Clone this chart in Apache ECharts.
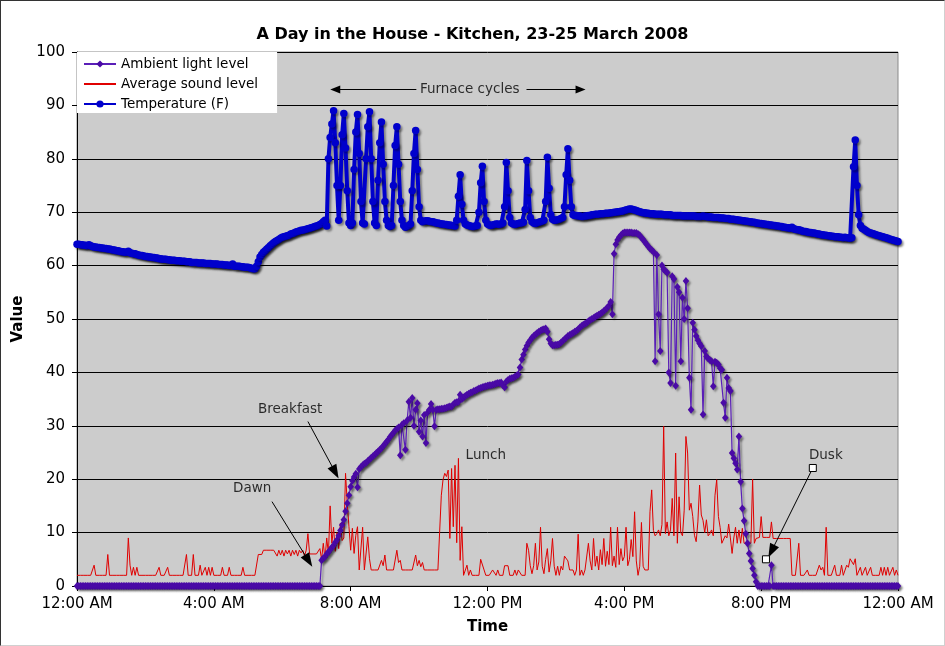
<!DOCTYPE html>
<html><head><meta charset="utf-8">
<script src="https://cdn.jsdelivr.net/npm/echarts@6/dist/echarts.min.js"></script>
<style>
html,body{margin:0;padding:0;background:#fff;}
#chart{width:945px;height:646px;box-sizing:border-box;border-top:1px solid #333;border-left:1px solid #333;border-right:1px solid #d0d0d0;border-bottom:1px solid #d0d0d0;}
</style></head><body><div id="chart"></div>
<script>
// sampling step of the logged data, in hours (every 3 minutes)
const STEP_HOURS = 0.05;
const timeTickLabels = ['12:00 AM','4:00 AM','8:00 AM','12:00 PM','4:00 PM','8:00 PM','12:00 AM'];
const seriesNames = ['Ambient light level','Average sound level','Temperature (F)'];

// Ambient light level, one row per hour (20 samples per hour), then the final midnight sample
const lightLevel = [
0,0,0,0,0,0,0,0,0,0,0,0,0,0,0,0,0,0,0,0,
0,0,0,0,0,0,0,0,0,0,0,0,0,0,0,0,0,0,0,0,
0,0,0,0,0,0,0,0,0,0,0,0,0,0,0,0,0,0,0,0,
0,0,0,0,0,0,0,0,0,0,0,0,0,0,0,0,0,0,0,0,
0,0,0,0,0,0,0,0,0,0,0,0,0,0,0,0,0,0,0,0,
0,0,0,0,0,0,0,0,0,0,0,0,0,0,0,0,0,0,0,0,
0,0,0,0,0,0,0,0,0,0,0,0,0,0,0,0,0,0,0,0,
0,0,0,4.8,5.2,5.5,6.0,6.3,6.8,7.2,7.6,8.2,8.6,9.4,10.4,11.4,12.4,14.0,15.5,17.0,
18.6,19.7,20.4,21.0,18.5,21.9,22.3,22.6,22.9,23.1,23.4,23.7,24.0,24.3,24.6,24.9,25.2,25.5,25.8,26.2,
26.6,27.0,27.4,27.9,28.3,28.7,29.1,29.4,29.7,24.5,30.2,30.5,25.5,31.0,34.5,31.5,35.2,30.0,33.0,34.2,
28.9,31.0,28.0,32.0,26.8,32.5,33.0,34.1,33.0,29.9,33.0,33.1,33.1,33.2,33.2,33.3,33.4,33.5,33.6,33.6,
34.0,34.3,34.4,34.5,35.8,35.0,35.3,35.6,35.8,36.0,36.2,36.3,36.5,36.6,36.8,37.0,37.1,37.2,37.3,37.4,
37.5,37.6,37.6,37.7,37.8,37.9,38.0,38.0,38.1,37.6,37.2,38.3,38.6,38.8,38.9,39.0,39.2,39.4,39.6,40.9,
42.4,43.3,44.3,45.0,45.6,46.0,46.5,46.8,47.1,47.4,47.6,47.8,48.0,48.1,48.2,47.6,46.2,45.4,45.1,45.1,
45.2,45.2,45.3,45.6,45.9,46.2,46.5,46.8,47.0,47.2,47.4,47.6,47.8,48.1,48.4,48.7,48.9,49.1,49.3,49.6,
49.8,50.0,50.2,50.4,50.6,50.8,51.0,51.2,51.5,51.8,52.1,52.5,53.2,50.9,62.2,64.0,64.8,65.3,65.7,66.0,
66.2,66.2,66.2,66.2,66.2,66.1,66.1,66.1,65.9,65.7,65.2,64.9,64.4,64.0,63.6,63.2,62.9,62.6,42.1,62.0,
50.9,44.0,60.0,59.3,59.0,58.7,40.0,38.0,58.0,57.5,37.5,56.0,55.0,42.1,54.0,50.0,57.1,52.0,39.0,33.0,
49.3,48.0,46.8,46.0,45.4,44.9,32.1,44.0,43.0,42.6,42.3,42.1,37.4,42.0,41.8,41.5,40.8,40.5,34.3,31.5,
39.0,37.1,36.5,24.9,23.9,23.0,21.8,28.0,19.5,14.5,12.2,9.8,8.0,6.1,4.7,3.3,2.0,0.8,0,0,
0,0,0,0,0,0,3.9,0,0,0,0,0,0,0,0,0,0,0,0,0,
0,0,0,0,0,0,0,0,0,0,0,0,0,0,0,0,0,0,0,0,
0,0,0,0,0,0,0,0,0,0,0,0,0,0,0,0,0,0,0,0,
0,0,0,0,0,0,0,0,0,0,0,0,0,0,0,0,0,0,0,0,
0
];

// Average sound level
const soundLevel = [
2,2,2,2,2,2,2,2,2,2,3.9,2,2,2,2,2,2,2,5.9,2,
2,2,2,2,2,2,2,2,2,2,9.0,3.9,2,3.5,2,3.5,2,2,2,2,
2,2,2,2,2,2,2,2,3.5,2,2,2,2,3.5,2,2,2,2,2,2,
2,2,2,2,5.9,2,2,2,5.9,2,2,2,3.9,2,2,3.5,2,3.5,2,3.5,
2,2,2,2,2,3.5,2,2,2,3.5,2,2,2,2,2,2,2,3.5,2,2,
2,2,2,2,2,2,5.9,5.9,5.9,6.7,6.7,6.7,6.7,6.7,6.7,6.7,6.7,5.6,6.7,5.8,
6.7,5.6,6.7,6.0,6.7,5.6,6.7,5.9,6.7,5.6,6.7,6.2,6.7,5.6,6.7,9.8,6.0,6.0,6.0,6.0,
6.0,6.0,7.0,5.0,8.0,5.0,9.0,6.0,15.0,8.0,11.0,6.5,10.0,7.0,11.8,8.5,9.0,21.1,15.5,11.1,
6.7,10.8,6.1,9.5,11.1,3.0,3.0,11.0,3.0,3.0,9.2,5.1,3.0,3.0,3.0,3.0,3.0,3.0,4.8,3.8,
5.8,3,3,3,3,3,3,6.7,4.4,4.8,3,3,3,3,3,3,3,3,5.8,3.8,
4.8,3.6,4.4,3,3,3,3,3,3,3,3,3,3,17.0,19.9,21.1,20.5,21.7,8.9,22.0,
11.1,22.6,8.1,23.9,4.8,11.1,2,2,3.9,2,3.0,2,2,2,2,2,5.0,5.0,3.0,2,
2,2,2,3,3,2,3,2,2,2,3.8,3.8,3.8,2,2,2,3,2,3,3,
2,2,2,8.0,6.7,3.8,2.3,3.8,8.0,3.0,4.5,11.0,3.7,2.3,5.0,7.0,2.6,4.7,8.9,3.7,
2,3.7,2,3.7,3.0,5.6,5.9,4.7,3,3,3,2,3,9.7,2,3,2,3,3,8.0,
4.7,3.0,8.9,3.7,5.6,3.0,6.8,4.0,8.9,3.7,6.5,4.0,11.0,3.8,5.6,3.5,11.0,4.0,7.0,4.7,
5.5,11.0,3.8,5.0,8.7,5.5,13.9,4.7,2.0,3.7,11.9,3.7,3.0,3.0,3.0,13.9,18.0,10.4,9.4,9.8,
10.5,9.4,11.5,29.9,9.8,12.0,9.4,10.5,16.4,9.4,24.9,8.0,16.7,10.0,9.4,14.2,28.0,24.9,14.2,15.5,
13.0,9.5,8.3,12.0,18.9,13.3,12.3,10.0,12.4,9.4,9.8,10.5,9.4,17.0,19.9,13.0,11.0,8.0,8.0,9.4,
9.0,11.6,9.0,6.1,9.0,11.0,8.0,10.5,8.0,10.8,8.0,8.0,8.0,8.0,8.0,20.0,8.0,8.9,9.1,9.1,
13.0,9.1,9.1,9.1,9.1,9.1,12.0,8.9,8.9,8.9,8.9,8.9,8.9,8.9,8.9,8.9,8.9,8.9,2.0,2.0,
2,2,8.0,2,2,2,2,3.0,2,2,2,2,2,2,3.9,3.0,3.5,2,11.0,2,
2,2,2,3.9,2,2,2,3.9,2,2,3.9,3.5,5.1,5.1,4.0,5.1,2,2,3.5,2,
2,3.5,2,2,3.5,2,2,2,2,2,3.5,2,3.5,2,3.5,2,2,3.5,2,3.0,
2
];

// Temperature (F)
const temperatureF = [
64.0,64.0,63.9,63.9,63.8,63.8,63.7,63.9,63.7,63.6,63.5,63.5,63.4,63.4,63.3,63.3,63.2,63.2,63.1,63.1,
63.0,62.9,62.9,62.8,62.8,62.7,62.6,62.6,62.5,62.5,62.7,62.4,62.3,62.2,62.2,62.1,62.0,61.9,61.9,61.8,
61.7,61.7,61.6,61.6,61.5,61.5,61.4,61.4,61.3,61.3,61.2,61.2,61.2,61.1,61.1,61.0,61.0,61.0,60.9,60.9,
60.9,60.8,60.8,60.8,60.7,60.7,60.7,60.6,60.6,60.6,60.6,60.5,60.5,60.5,60.5,60.4,60.4,60.4,60.4,60.3,
60.3,60.3,60.3,60.2,60.2,60.2,60.1,60.1,60.1,60.0,60.0,60.3,59.9,59.9,59.9,59.9,59.8,59.8,59.7,59.7,
59.7,59.6,59.5,59.4,59.4,59.9,60.7,61.6,62.1,62.5,62.8,63.1,63.4,63.7,64.0,64.3,64.5,64.7,64.9,65.1,
65.3,65.4,65.5,65.6,65.7,65.9,66.0,66.1,66.3,66.4,66.5,66.6,66.6,66.7,66.8,66.9,67.0,67.1,67.2,67.3,
67.4,67.5,67.7,67.9,68.2,68.5,67.4,80.0,84.0,86.5,89.0,83.0,75.0,68.5,75.0,84.5,88.5,82.0,74.0,68.0,
67.5,68.0,78.0,85.0,88.3,81.0,72.0,68.0,67.8,80.0,86.0,88.8,80.0,72.0,68.0,67.5,76.0,83.0,86.9,79.0,
72.0,68.5,67.5,67.3,67.5,75.0,82.5,86.0,79.0,72.0,68.5,67.5,67.2,67.3,67.5,67.8,74.0,81.0,85.3,78.0,
71.0,68.5,68.2,68.3,68.4,68.4,68.3,68.2,68.2,68.1,68.0,68.0,67.9,67.8,67.8,67.7,67.7,67.6,67.6,67.5,
67.5,67.4,68.5,73.0,77.0,71.5,68.5,67.8,67.6,67.5,67.4,67.3,67.3,67.4,67.5,70.0,75.5,78.6,72.0,68.5,
67.8,67.6,67.5,67.6,67.7,67.8,67.8,67.7,67.8,68.0,71.0,79.3,74.0,69.0,68.0,67.8,67.7,67.8,67.9,68.0,
68.0,68.1,70.5,79.7,74.0,69.0,68.2,68.0,67.9,68.0,68.1,68.2,68.3,68.5,72.0,80.3,74.5,69.5,68.7,68.5,
68.5,68.6,68.7,68.8,69.0,71.0,77.0,81.9,76.0,71.0,69.5,69.4,69.4,69.3,69.3,69.2,69.2,69.3,69.3,69.4,
69.4,69.5,69.5,69.6,69.6,69.6,69.7,69.7,69.7,69.8,69.8,69.8,69.9,69.9,70.0,70.0,70.1,70.1,70.2,70.2,
70.3,70.4,70.5,70.6,70.6,70.5,70.4,70.3,70.2,70.1,70.0,69.9,69.9,69.8,69.8,69.7,69.7,69.7,69.6,69.6,
69.6,69.6,69.6,69.5,69.5,69.5,69.5,69.5,69.4,69.4,69.4,69.4,69.4,69.4,69.3,69.3,69.3,69.3,69.3,69.3,
69.3,69.3,69.2,69.2,69.2,69.2,69.3,69.2,69.2,69.1,69.1,69.1,69.0,69.0,69.0,69.0,68.9,68.9,68.9,68.8,
68.8,68.8,68.7,68.7,68.7,68.6,68.6,68.5,68.5,68.4,68.4,68.3,68.3,68.2,68.2,68.1,68.1,68.0,68.0,67.9,
67.9,67.8,67.8,67.7,67.7,67.6,67.6,67.5,67.5,67.4,67.4,67.3,67.3,67.2,67.2,67.1,67.1,67.0,67.2,66.9,
66.8,66.7,66.7,66.6,66.5,66.4,66.4,66.3,66.2,66.2,66.1,66.1,66.0,65.9,65.9,65.8,65.8,65.7,65.7,65.6,
65.6,65.5,65.5,65.4,65.4,65.4,65.3,65.3,65.2,65.3,65.2,65.2,65.1,65.2,78.5,83.5,75.0,69.5,67.5,67.0,
66.8,66.6,66.4,66.2,66.1,66.0,65.9,65.8,65.7,65.6,65.5,65.4,65.3,65.2,65.1,65.0,64.9,64.8,64.7,64.6,
64.5
];

// text notes placed on the chart, in [hour, value] coordinates
const annotationLabels = [
  { text: 'Furnace cycles', at: [11.48, 93.0] },
  { text: 'Breakfast', at: [6.23, 33.0] },
  { text: 'Dawn', at: [5.12, 18.2] },
  { text: 'Lunch', at: [11.95, 24.4] },
  { text: 'Dusk', at: [21.89, 24.4] }
];
// arrows: from -> to, in [hour, value] coordinates
const annotationArrows = [
  { from: [9.92, 93.0], to: [7.55, 93.0], head: [8, 10] },
  { from: [13.14, 93.0], to: [14.72, 93.0], head: [8, 10] },
  { from: [6.75, 30.8], to: [7.55, 21.3], head: [10, 14] },
  { from: [5.70, 15.8], to: [6.77, 4.7], head: [10, 14] },
  { from: [21.51, 22.1], to: [20.3, 6.5], head: [10, 14] }
];
const annotationHandles = [[21.51, 22.1], [20.14, 5.0]];

const toPairs = arr => arr.map((v, i) => [Math.round(i * STEP_HOURS * 100) / 100, v]);

const FONT = 'DejaVu Sans';
const shadow = { shadowColor: 'rgba(0,0,0,0.35)', shadowBlur: 2, shadowOffsetX: 2, shadowOffsetY: 2 };
const LIGHT_LINE = '#5a1fb8', LIGHT_MARK = '#4a0aa6', TEMP = '#0000cc', SOUND = '#e00000';

const chart = echarts.init(document.getElementById('chart'), null, { renderer: 'canvas' });
chart.setOption({
  animation: false,
  backgroundColor: '#ffffff',
  textStyle: { fontFamily: FONT, color: '#000' },
  title: {
    text: 'A Day in the House - Kitchen, 23-25 March 2008',
    left: 'center', top: 21,
    textStyle: { fontFamily: FONT, fontSize: 16, fontWeight: 'bold', color: '#000' }
  },
  legend: {
    data: [
      { name: seriesNames[0] },
      { name: seriesNames[1], itemStyle: { color: 'rgba(0,0,0,0)', borderWidth: 0, opacity: 0 } },
      { name: seriesNames[2] }
    ],
    orient: 'vertical',
    left: 76, top: 51,
    backgroundColor: '#ffffff',
    padding: [5, 19, 2, 6],
    itemWidth: 32, itemHeight: 9, itemGap: 6,
    selectedMode: false,
    textStyle: { fontFamily: FONT, fontSize: 13.5, lineHeight: 14, color: '#000' }
  },
  grid: {
    left: 76, right: 46, top: 51, bottom: 59,
    show: true, backgroundColor: '#cccccc', borderColor: '#8a8a8a', borderWidth: 1
  },
  xAxis: {
    type: 'value', min: 0, max: 24, interval: 4,
    name: 'Time', nameLocation: 'middle', nameGap: 34,
    nameTextStyle: { fontFamily: FONT, fontSize: 15, fontWeight: 'bold', color: '#000' },
    axisLine: { show: true, onZero: false, lineStyle: { color: '#000', width: 1 } },
    axisTick: { show: true, length: 5, lineStyle: { color: '#000' } },
    axisLabel: { fontFamily: FONT, fontSize: 15, color: '#000', margin: 11,
      formatter: v => timeTickLabels[Math.round(v / 4)] },
    splitLine: { show: false }
  },
  yAxis: {
    type: 'value', min: 0, max: 100, interval: 10,
    name: 'Value', nameLocation: 'middle', nameGap: 42,
    nameTextStyle: { fontFamily: FONT, fontSize: 15, fontWeight: 'bold', color: '#000' },
    axisLine: { show: true, lineStyle: { color: '#000', width: 1 } },
    axisTick: { show: true, length: 5, lineStyle: { color: '#000' } },
    axisLabel: { fontFamily: FONT, fontSize: 15, color: '#000', margin: 12 },
    splitLine: { show: true, lineStyle: { color: '#000', width: 1 } }
  },
  series: [
    {
      name: seriesNames[1], type: 'line', data: toPairs(soundLevel),
      showSymbol: false, symbol: 'none',
      lineStyle: { color: SOUND, width: 1 },
      itemStyle: { color: SOUND },
      z: 2
    },
    {
      name: seriesNames[0], type: 'line', data: toPairs(lightLevel),
      symbol: 'diamond', symbolSize: [6, 8], showSymbol: false,
      lineStyle: Object.assign({ color: LIGHT_LINE, width: 1.2 }, shadow),
      itemStyle: { color: LIGHT_MARK },
      z: 3
    },
    {
      name: seriesNames[0], type: 'scatter', data: toPairs(lightLevel),
      symbol: 'diamond', symbolSize: [6.5, 8], large: false, silent: true,
      itemStyle: Object.assign({ color: LIGHT_MARK, opacity: 1 }, shadow),
      z: 3
    },
    {
      name: seriesNames[2], type: 'line', data: toPairs(temperatureF),
      symbol: 'circle', symbolSize: 7, showSymbol: false,
      lineStyle: Object.assign({ color: TEMP, width: 4 }, shadow),
      itemStyle: { color: TEMP },
      z: 4
    },
    {
      name: seriesNames[2], type: 'scatter', data: toPairs(temperatureF),
      symbol: 'circle', symbolSize: 7.5, large: false, silent: true,
      itemStyle: Object.assign({ color: TEMP, opacity: 1 }, shadow),
      z: 4
    },
    {
      name: 'notes', type: 'scatter', silent: true, z: 6,
      symbolSize: 0.01, itemStyle: { color: 'transparent' },
      data: annotationLabels.map(a => ({ value: a.at, name: a.text })),
      label: { show: true, position: 'inside', formatter: '{b}',
        fontFamily: FONT, fontSize: 13.5, color: '#000' },
      markLine: {
        silent: true, animation: false,
        lineStyle: { color: '#000', width: 1, type: 'solid' },
        label: { show: false },
        emphasis: { disabled: true },
        data: annotationArrows.map(a => [
          { coord: a.from, symbol: 'none' },
          { coord: a.to, symbol: 'triangle', symbolSize: a.head }
        ])
      },
      markPoint: {
        silent: true, animation: false,
        symbol: 'rect', symbolSize: 7,
        itemStyle: { color: '#ffffff', borderColor: '#000', borderWidth: 1 },
        label: { show: false },
        data: annotationHandles.map(c => ({ coord: c }))
      }
    }
  ]
});
</script></body></html>
